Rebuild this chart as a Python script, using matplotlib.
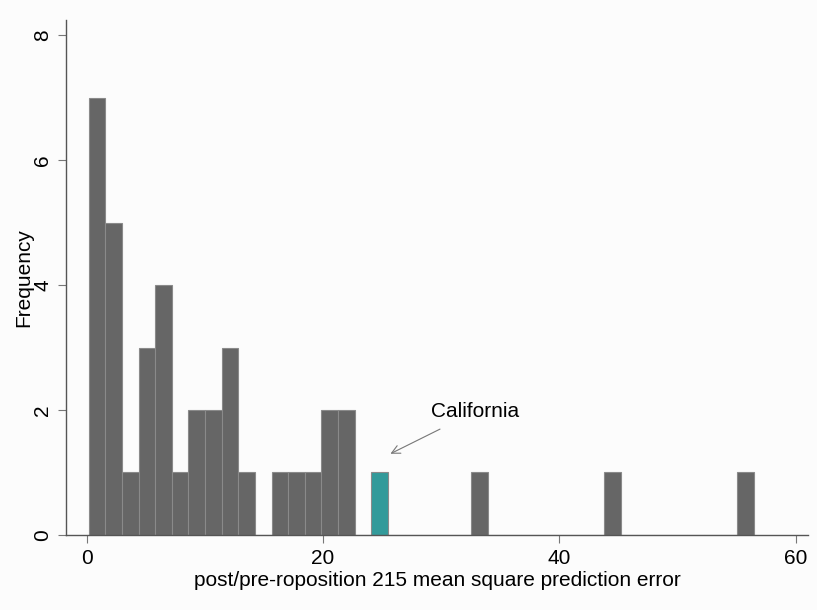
import numpy as np
import matplotlib
matplotlib.use("Agg")
import matplotlib.pyplot as plt

plt.rcParams['font.family'] = ['Liberation Sans', 'DejaVu Sans']

# histogram bins (Stata style: start + width)
bin_start = 0.15
bin_width = 1.408
counts = [7, 5, 1, 3, 4, 1, 2, 2, 3, 1,
          0, 1, 1, 1, 2, 2, 0, 1, 0, 0,
          0, 0, 0, 1, 0, 0, 0, 0, 0, 0,
          0, 1, 0, 0, 0, 0, 0, 0, 0, 1]
highlight_bin = 17  # California

x_ticks = [0, 20, 40, 60]
y_ticks = [0, 2, 4, 6, 8]

bg = "#fcfcfc"
fig = plt.figure(figsize=(8.17, 6.10), dpi=100, facecolor=bg)
ax = fig.add_axes([0.081, 0.123, 0.908, 0.844], facecolor=bg)

lefts = bin_start + bin_width * np.arange(len(counts))
colors = ["#329a9a" if i == highlight_bin else "#666666" for i in range(len(counts))]
ax.bar(lefts, counts, width=bin_width, align="edge", color=colors,
       edgecolor="#8a8a8a", linewidth=0.8)

ax.set_xlim(-1.75, 61.05)
ax.set_ylim(0, 8.24)
ax.set_xticks(x_ticks)
ax.set_yticks(y_ticks)
ax.set_yticklabels([str(v) for v in y_ticks], rotation=90, va="center")

for s in ["top", "right"]:
    ax.spines[s].set_visible(False)
for s in ["left", "bottom"]:
    ax.spines[s].set_color("#555555")
    ax.spines[s].set_linewidth(1.0)
ax.tick_params(direction="out", length=6, width=0.8, color="#777777",
               labelsize=15, pad=4)

ax.set_xlabel("post/pre-roposition 215 mean square prediction error",
              fontsize=15, labelpad=2)
ax.set_ylabel("Frequency", fontsize=15, labelpad=0)

ax.annotate("California", xy=(25.7, 1.3), xytext=(29.1, 1.97),
            fontsize=15, va="center", ha="left",
            arrowprops=dict(arrowstyle="->", color="#777777", lw=0.8,
                            shrinkA=8, shrinkB=0))

fig.savefig("out.png", dpi=100, facecolor=bg)
